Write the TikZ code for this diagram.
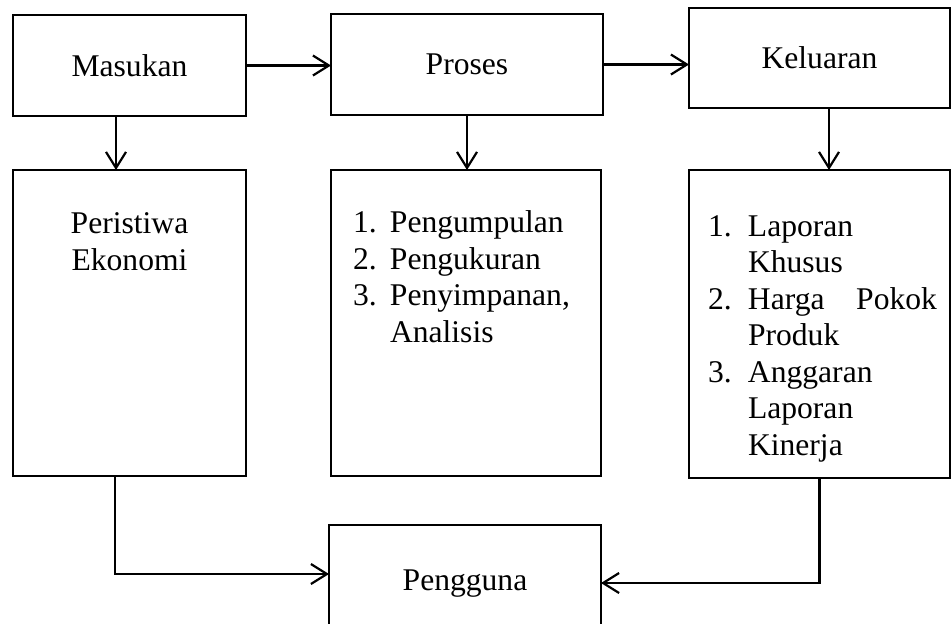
\documentclass[tikz,border=0pt]{standalone}
\usepackage{fontspec}
\setmainfont{Liberation Serif}
\usetikzlibrary{arrows.meta,positioning}

\begin{document}
\begin{tikzpicture}[x=0.5pt,y=-0.5pt,
	kotak/.style={draw,line width=0.65pt,inner sep=0pt,outer sep=0pt,text depth=0pt,font=\fontsize{15.8}{18.25}\selectfont},
	isi/.style={inner sep=0pt,outer sep=0pt,font=\fontsize{15.8}{18.25}\selectfont},
	panah/.style={line width=1.1pt,-{Straight Barb[length=8pt,width=10pt]}},
	]
	\useasboundingbox (0,0) rectangle (951,623);
	\clip (0,0) rectangle (951,623);
	
	% top row
	\node[kotak,minimum width=116.5pt,minimum height=50.5pt] (masukan) at (129.5,65.5) {Masukan};
	\node[kotak,minimum width=136pt,minimum height=50.5pt] (proses) at (467,64.5) {Proses};
	\node[kotak,minimum width=130.5pt,minimum height=50pt] (keluaran) at (819.5,58) {Keluaran};
	
	% lower boxes
	\node[kotak,minimum width=116.5pt,minimum height=153pt] (peristiwa) at (129.5,323) {};
	\node[kotak,minimum width=135pt,minimum height=153pt] (langkah) at (466,323) {};
	\node[kotak,minimum width=130.5pt,minimum height=154pt] (laporan) at (819.5,324) {};
	\node[kotak,minimum width=136pt,minimum height=55pt] (pengguna) at (465,580) {Pengguna};
	
	% texts of the lower boxes (base = last line)
	\node[isi,anchor=base,align=center] (peristiwa-isi) at (129.5,270) {Peristiwa\\Ekonomi};
	\node[isi,anchor=base west,align=left] (langkah-isi) at (353,342)
	{\makebox[18.5pt][l]{1.}Pengumpulan\\
	 \makebox[18.5pt][l]{2.}Pengukuran\\
	 \makebox[18.5pt][l]{3.}Penyimpanan,\\
	 \hspace*{18.5pt}Analisis};
	\node[isi,anchor=base west,align=left] (laporan-isi) at (708,455)
	{\makebox[20pt][l]{1.}Laporan\\
	 \hspace*{20pt}Khusus\\
	 \makebox[20pt][l]{2.}\makebox[94.5pt][s]{Harga\hfill Pokok}\\
	 \hspace*{20pt}Produk\\
	 \makebox[20pt][l]{3.}Anggaran\\
	 \hspace*{20pt}Laporan\\
	 \hspace*{20pt}Kinerja};
	
	% flow arrows
	\draw[panah] (masukan.east) -- (masukan.east -| proses.west);
	\draw[panah] (proses.east) -- (proses.east -| keluaran.west);
	\draw[panah] ([xshift=-6.75pt]masukan.south) -- ([xshift=-6.75pt]masukan.south |- peristiwa.north);
	\draw[panah] (proses.south) -- (proses.south |- langkah.north);
	\draw[panah] ([xshift=4.75pt]keluaran.south) -- ([xshift=4.75pt]keluaran.south |- laporan.north);
	
	% to the users
	\draw[panah] ([xshift=-7.25pt]peristiwa.south) |- ([yshift=3pt]pengguna.west);
	\draw[panah] (laporan.south) |- ([yshift=-1.5pt]pengguna.east);
	
\end{tikzpicture}
\end{document}
